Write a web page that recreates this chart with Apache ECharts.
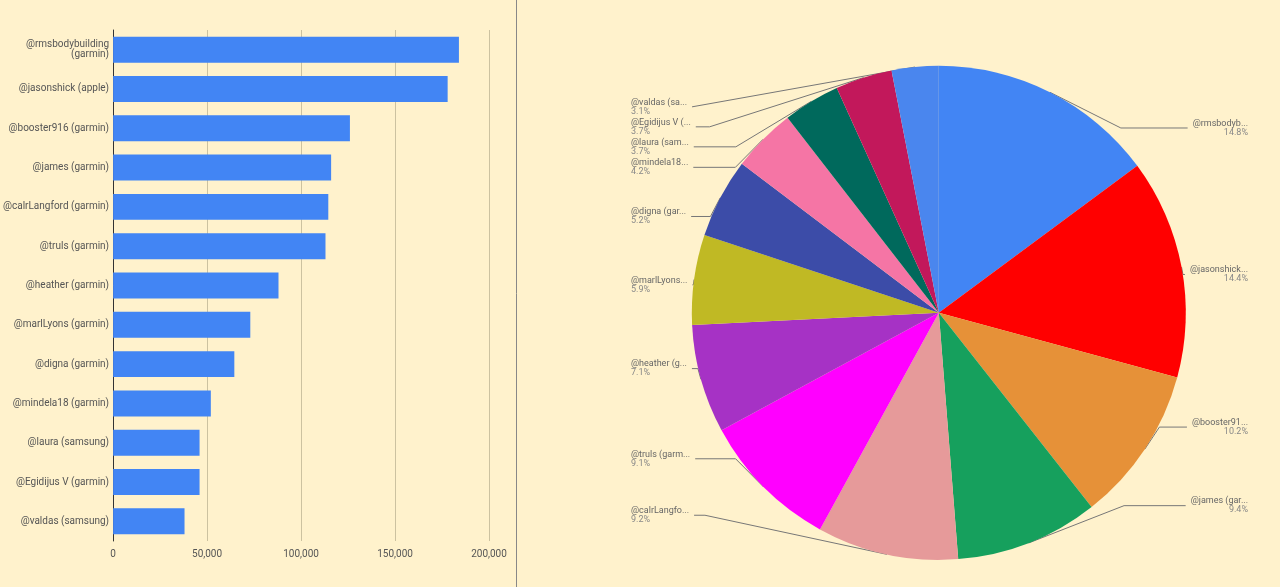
<!DOCTYPE html>
<html><head><meta charset="utf-8">
<script src="https://cdn.jsdelivr.net/npm/echarts@6/dist/echarts.min.js"></script>
<style>html,body{margin:0;padding:0;background:#fff2cc;}#c{width:1280px;height:587px;}</style>
</head><body><div id="c"></div>
<script>
const categories = ['@rmsbodybuilding\n(garmin)','@jasonshick (apple)','@booster916 (garmin)','@james (garmin)','@calrLangford (garmin)','@truls (garmin)','@heather (garmin)','@marlLyons (garmin)','@digna (garmin)','@mindela18 (garmin)','@laura (samsung)','@Egidijus V (garmin)','@valdas (samsung)'];
const values = [184000,178000,126000,116000,114500,113000,88000,73000,64500,52000,46000,46000,38000];
const pieLabels = ['@rmsbodyb...','@jasonshick...','@booster91...','@james (gar...','@calrLangfo...','@truls (garm...','@heather (g...','@marlLyons...','@digna (gar...','@mindela18...','@laura (sam...','@Egidijus V (...','@valdas (sa...'];
const pieColors = ['#4285f4','#ff0000','#e69138','#16a05d','#e69a9a','#ff00ff','#a632c5','#c0b924','#3c4ca8','#f575a5','#00695c','#c2185b','#4a86ee'];
const xTicks = [0,50000,100000,150000,200000];

const chart = echarts.init(document.getElementById('c'));
chart.setOption({
  backgroundColor:'#fff2cc',
  textStyle:{fontFamily:'Roboto'},
  graphic:[{type:'line',shape:{x1:516.5,y1:0,x2:516.5,y2:587},style:{stroke:'#888',lineWidth:1}}],
  grid:{left:93,top:30,bottom:46,width:396},
  xAxis:{type:'value',min:xTicks[0],max:xTicks[xTicks.length-1],interval:50000,
    axisLabel:{color:'#555',fontSize:10,fontFamily:'Roboto'},
    splitLine:{lineStyle:{color:'#ccc2a0'}},axisLine:{show:false},axisTick:{show:false}},
  yAxis:{type:'category',data:categories,inverse:true,
    axisLine:{lineStyle:{color:'#333'}},axisTick:{show:false},
    axisLabel:{color:'#555',fontSize:10,lineHeight:10,fontFamily:'Roboto',margin:4}},
  series:[
    {type:'bar',data:values,barWidth:'66%',itemStyle:{color:'#4285f4'},silent:true},
    {type:'pie',left:599,right:0,top:0,bottom:0,center:['49.9%','53.3%'],radius:247,
     startAngle:90,clockwise:true,silent:true,
     data:values.map((v,i)=>({value:v,name:pieLabels[i],itemStyle:{color:pieColors[i]}})),
     label:{alignTo:'edge',edgeDistance:32,formatter:p=>'{n|'+p.name+'}\n{p|'+p.percent.toFixed(1)+'%}',
       rich:{n:{color:'#666',fontSize:9,fontFamily:'Roboto'},p:{color:'#888',fontSize:9,fontFamily:'Roboto'}}},
     labelLine:{length:-40,length2:0,lineStyle:{color:'#777',width:1}},
     percentPrecision:1}
  ]
});
</script></body></html>
